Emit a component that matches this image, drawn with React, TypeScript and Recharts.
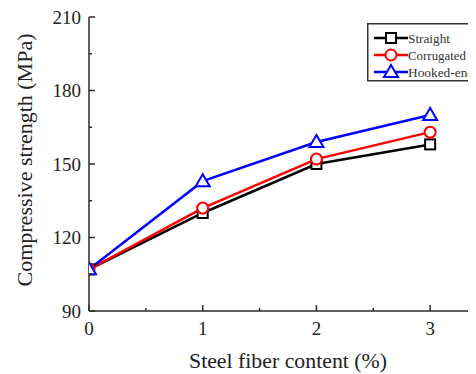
import React from 'react';
import { LineChart, Line, XAxis, YAxis, Legend, Label } from 'recharts';

const contents = [0, 1, 2, 3];
const straight = [107, 130, 150, 158];
const corrugated = [107, 132, 152, 163];
const hooked = [107, 143, 159, 170];
const xTicks = [0, 0.5, 1, 1.5, 2, 2.5, 3, 3.5];
const yTicks = [90, 105, 120, 135, 150, 165, 180, 195, 210];
const xLabels = [0, 1, 2, 3];
const yLabels = [90, 120, 150, 180, 210];
const seriesNames = ['Straight', 'Corrugated', 'Hooked-end'];
const seriesColors = ['#000000', '#ff0000', '#0000ff'];
const legendTextWidths = [42, 58, 66];

const data = contents.map((c, i) => ({
  x: c,
  straight: straight[i],
  corrugated: corrugated[i],
  hooked: hooked[i],
}));

const FONT = "'Liberation Serif', 'Times New Roman', serif";
const AXIS = '#2a2a2a';

const Marker = ({ kind, cx, cy, color }: { kind: number; cx: number; cy: number; color: string }) => {
  if (kind === 0) {
    return <rect x={cx - 5} y={cy - 5} width={10} height={10} fill="#fff" stroke={color} strokeWidth={2} />;
  }
  if (kind === 1) {
    return <circle cx={cx} cy={cy} r={5.5} fill="#fff" stroke={color} strokeWidth={2} />;
  }
  return (
    <polygon
      points={`${cx},${cy - 7} ${cx - 7},${cy + 5} ${cx + 7},${cy + 5}`}
      fill="#fff"
      stroke={color}
      strokeWidth={2}
      strokeLinejoin="miter"
    />
  );
};

const makeDot = (kind: number, color: string) => (props: any) => {
  const { cx, cy, key, index } = props;
  if (cx == null || cy == null) return <g key={key ?? index} />;
  return (
    <g key={key ?? `d${kind}-${index}`}>
      <Marker kind={kind} cx={cx} cy={cy} color={color} />
    </g>
  );
};

const XTick = (props: any) => {
  const { x, y, payload } = props;
  const v = payload.value;
  const major = Number.isInteger(v);
  return (
    <g>
      <line x1={x} x2={x} y1={y} y2={y - (major ? 6 : 3)} stroke={AXIS} strokeWidth={1.5} />
      {xLabels.includes(v) && (
        <text x={x} y={y + 24} textAnchor="middle" fontSize={19} fontFamily={FONT} fill="#222">
          {v}
        </text>
      )}
    </g>
  );
};

const TopTick = (props: any) => {
  const { x, y, payload } = props;
  const major = Number.isInteger(payload.value);
  return <line x1={x} x2={x} y1={y} y2={y + (major ? 6 : 3)} stroke={AXIS} strokeWidth={1.5} />;
};

const YTick = (props: any) => {
  const { x, y, payload } = props;
  const v = payload.value;
  const major = yLabels.includes(v);
  return (
    <g>
      <line x1={x} x2={x + (major ? 6 : 3)} y1={y} y2={y} stroke={AXIS} strokeWidth={1.5} />
      {major && (
        <text x={x - 8} y={y} dy={6.5} textAnchor="end" fontSize={19} fontFamily={FONT} fill="#222">
          {v}
        </text>
      )}
    </g>
  );
};

const LegendBox = () => (
  <svg width={130} height={60} style={{ display: 'block', overflow: 'visible' }}>
    <rect x={0.75} y={0.75} width={127} height={57} fill="#fff" stroke="#333" strokeWidth={1.5} />
    {seriesNames.map((name, i) => {
      const cy = 15 + i * 17;
      return (
        <g key={name}>
          <line x1={7} x2={41} y1={cy} y2={cy} stroke={seriesColors[i]} strokeWidth={2.5} />
          <Marker kind={i} cx={24} cy={cy} color={seriesColors[i]} />
          <text
            x={41}
            y={cy + 4.5}
            fontSize={13.5}
            fontFamily={FONT}
            fill="#333"
            textLength={legendTextWidths[i]}
            lengthAdjust="spacingAndGlyphs"
          >
            {name}
          </text>
        </g>
      );
    })}
  </svg>
);

export default function App() {
  return (
    <div style={{ width: 468, height: 366, overflow: 'hidden' }}>
      <LineChart width={500} height={366} data={data} margin={{ top: 9, right: 21, bottom: 0, left: 0 }}>
        <XAxis
          dataKey="x"
          type="number"
          domain={[0, 3.5]}
          ticks={xTicks}
          interval={0}
          height={63}
          tickSize={0}
          tickMargin={0}
          tickLine={false}
          tick={<XTick />}
          axisLine={{ stroke: AXIS, strokeWidth: 1.5 }}
          allowDataOverflow
        >
          <Label
            content={() => (
              <text
                x={280}
                y={360}
                textAnchor="middle"
                fontSize={22}
                fontFamily={FONT}
                fill="#222"
                textLength={198}
                lengthAdjust="spacingAndGlyphs"
              >
                Steel fiber content (%)
              </text>
            )}
          />
        </XAxis>
        <XAxis
          xAxisId="top"
          orientation="top"
          dataKey="x"
          type="number"
          domain={[0, 3.5]}
          ticks={xTicks}
          interval={0}
          height={0}
          tickSize={0}
          tickMargin={0}
          tickLine={false}
          tick={<TopTick />}
          axisLine={{ stroke: AXIS, strokeWidth: 1.5 }}
          allowDataOverflow
        />
        <YAxis
          type="number"
          domain={[90, 210]}
          ticks={yTicks}
          interval={0}
          width={81}
          tickSize={0}
          tickMargin={0}
          tickLine={false}
          tick={<YTick />}
          axisLine={{ stroke: AXIS, strokeWidth: 1.5 }}
          allowDataOverflow
        >
          <Label
            content={() => (
              <text
                x={16}
                y={152}
                transform="rotate(-90 16 152)"
                textAnchor="middle"
                dominantBaseline="central"
                fontSize={22}
                fontFamily={FONT}
                fill="#222"
                textLength={253}
                lengthAdjust="spacingAndGlyphs"
              >
                Compressive strength (MPa)
              </text>
            )}
          />
        </YAxis>
        <Legend
          layout="horizontal"
          verticalAlign="middle"
          align="center"
          content={<LegendBox />}
          wrapperStyle={{ left: 359, top: 15, width: 130, height: 60 }}
        />
        <Line
          dataKey="straight"
          name="Straight"
          stroke={seriesColors[0]}
          strokeWidth={2.5}
          dot={makeDot(0, seriesColors[0])}
          isAnimationActive={false}
        />
        <Line
          dataKey="corrugated"
          name="Corrugated"
          stroke={seriesColors[1]}
          strokeWidth={2.5}
          dot={makeDot(1, seriesColors[1])}
          isAnimationActive={false}
        />
        <Line
          dataKey="hooked"
          name="Hooked-end"
          stroke={seriesColors[2]}
          strokeWidth={2.5}
          dot={makeDot(2, seriesColors[2])}
          isAnimationActive={false}
        />
      </LineChart>
    </div>
  );
}
